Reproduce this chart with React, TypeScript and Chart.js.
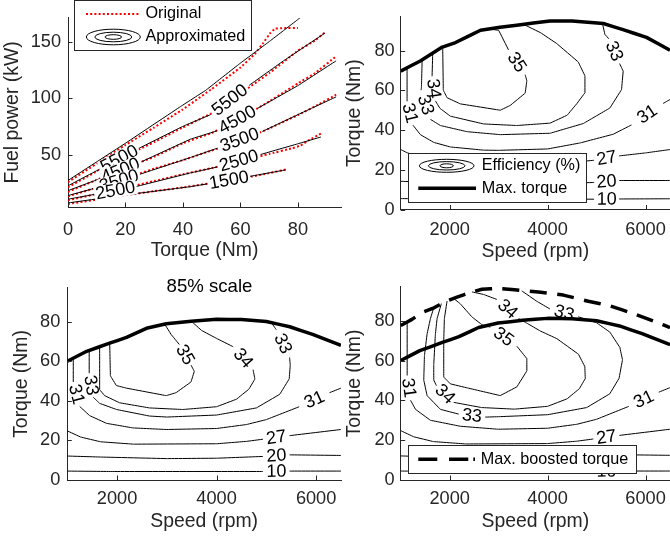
import React, { useEffect, useRef } from "react";
import { Chart, registerables } from "chart.js";
Chart.register(...registerables);

const FONT = '"Liberation Sans", Arial, Helvetica, sans-serif';
const AX = "#262626";
const TICK_FONT = 18.2;
const TITLE_FONT = 19.4;
const CLABEL_FONT = 18;

type Pt = [number, number] | null;

// ---------------- Panel 1: fuel power vs torque ----------------
const torqueTicks1 = [0, 20, 40, 60, 80];
const fuelTicks = [50, 100, 150];

// Approximated (contours of speed, rpm) — null = label gap
const approx6500: Pt[] = [[0, 27], [20, 60], [39, 92.2], [48, 107], [59.5, 130], [70, 150], [80, 169.6], [82, 174]];
const approx5500: Pt[] = [[0, 22.3], [11, 37], null, [24.7, 55.5], [40, 75], [49.6, 85.3], null, [63, 111.2], [75, 133], [89.3, 157.4]];
const approx4500: Pt[] = [[0, 18], [11, 28.5], null, [25.5, 43.5], [42.6, 63.6], [51.9, 71], null, [65.9, 90.8], [80, 111], [93.3, 133]];
const approx3500: Pt[] = [[0, 13.6], [10.5, 21], null, [25, 32.5], [42.6, 47.3], [51.9, 55.5], null, [67.6, 70.4], [84.6, 90.8], [93.3, 101]];
const approx2500: Pt[] = [[0, 10.4], [9.5, 14.8], null, [23.5, 21.5], [42.6, 33.7], [52, 39], null, [67, 50], [80, 59.5], [88, 65.5]];
const approx1500: Pt[] = [[0, 7.1], [20, 14.2], [42.6, 21.5], [49, 24.2], null, [63, 30.5], [75.8, 36.4]];

// Original data
const orig6500: Pt[] = [[0, 25.5], [10, 42], [20, 58.5], [30, 74], [40, 90], [50, 108], [60, 127], [65, 139], [68, 149], [70.5, 158], [72, 161.5], [75, 162], [80, 162]];
const orig5500: Pt[] = [[0, 21], [10, 35], [20, 48.5], [30, 61], [40, 74], [50, 86.5], [60, 104], [70, 122], [80, 142], [86, 151], [89.3, 158]];
const orig4500: Pt[] = [[0, 17], [10, 27.5], [20, 38], [30, 48], [40, 60], [50, 69], [60, 82], [70, 97], [80, 113], [86, 122], [93.3, 137]];
const orig3500: Pt[] = [[0, 13], [10, 20.5], [20, 29], [30, 37.5], [40, 45], [50, 53.5], [60, 62], [70, 73], [80, 85], [87, 94], [93.3, 103]];
const orig2500: Pt[] = [[0, 9.5], [10, 15], [20, 20.5], [30, 26.5], [40, 32.5], [50, 38], [60, 44], [70, 50.5], [78, 55.5], [81, 58], [84, 63], [88, 68.5]];
const orig1500: Pt[] = [[0, 6.2], [10, 10], [20, 14], [30, 17.5], [40, 20.8], [50, 24.8], [60, 28.5], [70, 33.5], [76, 36.8]];

// ---------------- Efficiency maps ----------------
const speedTicks = [2000, 4000, 6000];
const torqueTicks = [0, 20, 40, 60, 80];

// Panel 2: full scale
const maxTorque: Pt[] = [[1000, 69.7], [1400, 74.8], [1850, 81.8], [2120, 84.1], [2630, 90.3], [3030, 91.8], [3710, 93.9], [4050, 94.9], [4500, 94.9], [5140, 93.7], [5540, 90.6], [6020, 86.7], [6500, 80.2]];
const eff10: Pt[] = [[1000, 5.5], [1900, 5.3], [3000, 5.1], [4950, 5.2], null, [5460, 5.3], [6500, 5.4]];
const eff20: Pt[] = [[1000, 14.2], [1670, 13.6], [3000, 12.9], [4000, 13], [4950, 13.6], null, [5460, 14.6], [6500, 14.6]];
const eff27: Pt[] = [[1000, 30.2], [1130, 28.6], [1400, 26.5], [1700, 25], [2300, 23.5], [3000, 23], [4000, 23.3], [4700, 24.2], [4950, 24.8], null, [5460, 27], [6000, 28.5], [6500, 30.2]];
const eff31: Pt[] = [[1130, 71], [1130, 54.5], null, [1250, 42.5], [1403, 37.7], [1674, 33.8], [2014, 31.5], [2692, 29.9], [3000, 29.8], [4000, 30.5], [4660, 33.5], [5340, 37.9], [5713, 42.6], null, [6358, 53.4], [6500, 55.4]];
const eff33: Pt[] = [[1438, 75.4], [1424, 61.7], [1417, 60.1], null, [1607, 45.4], [1810, 42.3], [2354, 39.2], [3033, 37.7], [4051, 38.4], [4729, 43.3], [5272, 51.1], [5510, 60.4], [5544, 69.7], [5470, 73.5], null, [5250, 86], [5170, 88.2], [5122, 93.6]];
const eff34: Pt[] = [[1654, 78.8], [1641, 67.1], null, [1709, 54.7], [1800, 51], [2014, 47], [2692, 43.1], [3371, 42.3], [4051, 43.5], [4400, 47.5], [4600, 53.4], [4763, 58.8], [4763, 67.3], [4627, 74.3], [4186, 83.6], [3860, 89], [3507, 93.3]];
const eff35: Pt[] = [[1858, 81.5], [1870, 60.1], [1947, 56.3], [2218, 53.2], [3033, 50], [3236, 52.4], [3542, 58.6], [3576, 64.8], [3542, 67.9], null, [3202, 80.4], [3000, 90.3], [2795, 90.9]];

// Panel 3: 85% scale
const maxTorque85: Pt[] = [[1000, 60], [1390, 65], [1850, 69.1], [2190, 72], [2590, 76.6], [2990, 78.9], [3490, 80.2], [4000, 81.2], [4500, 81], [5000, 80], [5470, 77.4], [5930, 73.5], [6500, 68]];
const s85eff10: Pt[] = [[1000, 4.5], [1870, 4.3], [4933, 4.3], null, [5467, 4.5], [6500, 4.5]];
const s85eff20: Pt[] = [[1000, 12.1], [1667, 11.6], [3000, 10.8], [4000, 11], [4933, 11.9], null, [5467, 12.7], [6500, 12.4]];
const s85eff27: Pt[] = [[1000, 24.8], [1267, 21.7], [1667, 19.3], [2333, 18.1], [4000, 18.3], [4600, 19.5], [4933, 20.6], null, [5467, 22.4], [6500, 25.5]];
const s85eff31: Pt[] = [[1120, 61], [1120, 49.5], null, [1250, 37.1], [1450, 32.5], [1790, 28.6], [2320, 26.3], [2990, 25.5], [4000, 26], [4600, 28], [5000, 30.5], [5660, 37], null, [6270, 44.1], [6500, 46.4]];
const s85eff33: Pt[] = [[1440, 65.5], [1440, 53.9], null, [1520, 41.8], [1650, 38.7], [1990, 35.6], [2650, 32.3], [3000, 31.8], [4000, 32.8], [4800, 36.4], [5270, 43.3], [5460, 51.1], [5480, 58], [5467, 61.9], null, [5200, 75.9], [5100, 79.5]];
const s85eff34: Pt[] = [[1650, 67.2], [1650, 45.6], [1750, 42.6], [2050, 39], [2650, 36.4], [3320, 35.6], [4000, 37], [4400, 40.8], [4650, 45.9], [4770, 51], [4733, 55.7], null, [4333, 67.3], [4000, 71.5], [3700, 75.5], [3500, 80]];
const s85eff35: Pt[] = [[1852, 69.2], [1866, 52.6], [1986, 47.7], [2186, 46.4], [2986, 42.6], [3186, 44.1], [3486, 49.5], [3552, 54.9], [3486, 58], null, [3252, 68.4], [3086, 73.5], [2960, 78.6]];

// Panel 4: boosted
const boostedTorque: Pt[] = [[1000, 77.6], [1230, 80.7], [1440, 84.2], [1680, 86.5], [1910, 89.6], [2150, 91.9], [2420, 94.2], [2660, 95.8], [3000, 96.3], [3270, 95.7], [3813, 94.4], [4322, 92.9], [4831, 89.8], [5272, 87.5], [5747, 83.6], [6257, 79], [6500, 76.6]];
const bEff31: Pt[] = [[1132, 79.3], [1132, 52.5], null, [1200, 40.1], [1302, 35.5], [1607, 30], [2218, 27], [2990, 25.5], [4000, 26], [4600, 28], [5000, 30.5], [5660, 37], null, [6270, 44.1], [6500, 46.4]];
const bEff33: Pt[] = [[1675, 86.5], [1607, 81.1], [1539, 73.4], [1485, 62.5], [1471, 50.2], [1539, 42.4], [1811, 35.5], [2184, 33.1], null, [2727, 31.6], [3000, 31.8], [4000, 32.8], [4800, 36.4], [5270, 43.3], [5460, 51.1], [5530, 60.4], [5476, 66.6], [5272, 74.3], [5000, 79], [4627, 82], null, [4050, 85.9], [3779, 89.8], [3473, 95]];
const bEff34: Pt[] = [[1830, 88.6], [1743, 81.1], [1709, 73.4], [1675, 57.9], [1675, 50.2], [1729, 47.4], null, [2082, 39], [2650, 36.4], [3320, 35.6], [4000, 37], [4400, 40.8], [4650, 45.9], [4770, 51], [4760, 57], [4630, 63.2], [4190, 71], [3848, 74.9], [3576, 78.8], [3406, 81.1], null, [2965, 90.7], [2694, 93.2], [2456, 94.5]];
const bEff35: Pt[] = [[1947, 89.9], [1892, 81.1], [1879, 70.3], [1879, 51.7], [2014, 48.3], [2354, 46.3], [3033, 42.4], [3373, 46.8], [3576, 54.8], [3576, 61], [3373, 67.2], null, [2829, 76.8], [2660, 78], [2456, 81.9], [2218, 88.5], [2082, 91.2]];

// ---------------- helpers ----------------
const toXY = (arr: Pt[]) => arr.map((p) => (p ? { x: p[0], y: p[1] } : { x: NaN, y: NaN }));

// tiny tension avoids Chart.js' fast-path which overdraws near-vertical runs
const TENSION = 0.0001;

const contour = (arr: Pt[], text?: string) => ({
  data: toXY(arr),
  clabel: text,
  borderColor: "#000",
  borderWidth: 1,
  pointRadius: 0,
  fill: false,
  tension: TENSION,
  spanGaps: false,
});
const thick = (arr: Pt[], dash?: number[]) => ({
  data: toXY(arr),
  borderColor: "#000",
  borderWidth: 3.5,
  borderDash: dash || [],
  borderJoinStyle: "round",
  pointRadius: 0,
  fill: false,
  tension: TENSION,
});
const dotted = (arr: Pt[]) => ({
  data: toXY(arr),
  borderColor: "#ff0000",
  borderWidth: 2,
  borderDash: [2, 2.2],
  pointRadius: 0,
  fill: false,
  tension: TENSION,
});

interface AxisSpec {
  min: number;
  max: number;
  ticks: number[];
  title: string;
  tickPad: number; // x: label centre offset below axis; y: gap left of axis
  titlePad: number;
}
interface Spec {
  W: number;
  H: number;
  area: [number, number, number, number];
  x: AxisSpec;
  y: AxisSpec;
  datasets: any[];
  labelBg: boolean;
  overlay?: (ctx: CanvasRenderingContext2D) => void;
}

function legendBox(ctx: CanvasRenderingContext2D, x: number, y: number, w: number, h: number) {
  ctx.save();
  ctx.fillStyle = "#fff";
  ctx.fillRect(x, y, w, h);
  ctx.strokeStyle = AX;
  ctx.lineWidth = 1;
  ctx.setLineDash([]);
  ctx.strokeRect(Math.round(x) + 0.5, Math.round(y) + 0.5, Math.round(w), Math.round(h));
  ctx.restore();
}
function legendText(ctx: CanvasRenderingContext2D, t: string, x: number, y: number) {
  ctx.save();
  ctx.fillStyle = "#000";
  ctx.font = `16.2px ${FONT}`;
  ctx.textAlign = "left";
  ctx.textBaseline = "middle";
  ctx.fillText(t, x, y);
  ctx.restore();
}
function ellipses(ctx: CanvasRenderingContext2D, cx: number, cy: number, radii: [number, number][]) {
  ctx.save();
  ctx.strokeStyle = "#000";
  ctx.lineWidth = 1;
  radii.forEach(([rx, ry]) => {
    ctx.beginPath();
    ctx.ellipse(cx, cy, rx, ry, 0, 0, Math.PI * 2);
    ctx.stroke();
  });
  ctx.restore();
}
function seg(ctx: CanvasRenderingContext2D, x1: number, x2: number, y: number, w: number, color: string, dash: number[]) {
  ctx.save();
  ctx.strokeStyle = color;
  ctx.lineWidth = w;
  ctx.setLineDash(dash);
  ctx.beginPath();
  ctx.moveTo(x1, y);
  ctx.lineTo(x2, y);
  ctx.stroke();
  ctx.restore();
}

function buildConfig(spec: Spec): any {
  const [l, t, r, b] = spec.area;
  const scale = (a: AxisSpec, horizontal: boolean, size: number) => ({
    type: "linear",
    min: a.min,
    max: a.max,
    afterBuildTicks: (s: any) => {
      s.ticks = a.ticks.map((v) => ({ value: v }));
    },
    afterFit: (s: any) => {
      if (horizontal) s.height = size;
      else s.width = size;
    },
    grid: { display: false, drawTicks: false },
    border: { display: true, color: AX, width: 1 },
    ticks: {
      display: !horizontal,
      padding: horizontal ? 0 : a.tickPad,
      color: AX,
      font: { family: FONT, size: TICK_FONT },
      autoSkip: false,
      maxRotation: 0,
      minRotation: 0,
      callback: (v: any) => String(v),
    },
    title: {
      display: true,
      text: a.title,
      color: AX,
      font: { family: FONT, size: TITLE_FONT },
      padding: horizontal ? { top: 0, bottom: a.titlePad } : { top: a.titlePad, bottom: 0 },
    },
  });

  const decor = {
    id: "decor",
    afterDatasetsDraw(chart: any) {
      const ctx: CanvasRenderingContext2D = chart.ctx;
      chart.data.datasets.forEach((ds: any, i: number) => {
        if (!ds.clabel) return;
        const pts = chart.getDatasetMeta(i).data;
        for (let k = 1; k < pts.length - 1; k++) {
          const p = pts[k];
          if (!p.skip) continue;
          const a = pts[k - 1];
          const c = pts[k + 1];
          if (!a || !c || a.skip || c.skip) continue;
          const cx = (a.x + c.x) / 2;
          const cy = (a.y + c.y) / 2;
          let ang = Math.atan2(c.y - a.y, c.x - a.x);
          if (ang > Math.PI / 2) ang -= Math.PI;
          if (ang < -Math.PI / 2) ang += Math.PI;
          ctx.save();
          ctx.translate(cx, cy);
          ctx.rotate(ang);
          ctx.font = `${CLABEL_FONT}px ${FONT}`;
          ctx.textAlign = "center";
          ctx.textBaseline = "middle";
          if (spec.labelBg) {
            const w = ctx.measureText(ds.clabel).width;
            ctx.fillStyle = "#fff";
            ctx.fillRect(-w / 2 - 1.5, -7.5, w + 3, 15);
          }
          ctx.fillStyle = "#000";
          ctx.fillText(ds.clabel, 0, 0.5);
          ctx.restore();
        }
      });
    },
    afterDraw(chart: any) {
      const ctx: CanvasRenderingContext2D = chart.ctx;
      const xs = chart.scales.x;
      const ys = chart.scales.y;
      const ca = chart.chartArea;
      ctx.save();
      ctx.strokeStyle = AX;
      ctx.lineWidth = 1;
      ctx.beginPath();
      spec.x.ticks.forEach((v) => {
        const px = Math.round(xs.getPixelForValue(v)) + 0.5;
        ctx.moveTo(px, ca.bottom);
        ctx.lineTo(px, ca.bottom - 4.5);
      });
      spec.y.ticks.forEach((v) => {
        const py = Math.round(ys.getPixelForValue(v)) + 0.5;
        ctx.moveTo(ca.left, py);
        ctx.lineTo(ca.left + 4.5, py);
      });
      ctx.stroke();
      // x tick labels, placed from the x scale
      ctx.fillStyle = AX;
      ctx.font = `${TICK_FONT}px ${FONT}`;
      ctx.textAlign = "center";
      ctx.textBaseline = "middle";
      spec.x.ticks.forEach((v) => {
        ctx.fillText(String(v), xs.getPixelForValue(v), ca.bottom + spec.x.tickPad);
      });
      ctx.restore();
      if (spec.overlay) spec.overlay(ctx);
    },
  };

  return {
    type: "line",
    data: { datasets: spec.datasets },
    options: {
      responsive: false,
      maintainAspectRatio: false,
      animation: false,
      devicePixelRatio: 1,
      events: [],
      layout: { padding: { left: 0, top: t, right: spec.W - r, bottom: 0 } },
      plugins: { legend: { display: false }, tooltip: { enabled: false }, title: { display: false } },
      scales: {
        x: scale(spec.x, true, spec.H - b),
        y: scale(spec.y, false, l),
      },
    },
    plugins: [decor],
  };
}

function ChartCanvas({ spec, left, top }: { spec: Spec; left: number; top: number }) {
  const ref = useRef<HTMLCanvasElement>(null);
  useEffect(() => {
    const chart = new Chart(ref.current as HTMLCanvasElement, buildConfig(spec));
    return () => chart.destroy();
  }, []);
  return (
    <canvas
      ref={ref}
      width={spec.W}
      height={spec.H}
      style={{ position: "absolute", left, top, width: spec.W, height: spec.H }}
    />
  );
}

// ---------------- panel specs ----------------
const spec1: Spec = {
  W: 345,
  H: 270,
  area: [68, 1, 341, 207],
  x: { min: 0, max: 95, ticks: torqueTicks1, title: "Torque (Nm)", tickPad: 22.5, titlePad: 7.4 },
  y: { min: 3.5, max: 171, ticks: fuelTicks, title: "Fuel power (kW)", tickPad: 7, titlePad: 0.8 },
  labelBg: true,
  datasets: [
    contour(approx6500),
    contour(approx5500, "5500"),
    contour(approx4500, "4500"),
    contour(approx3500, "3500"),
    contour(approx2500, "2500"),
    contour(approx1500, "1500"),
    dotted(orig6500),
    dotted(orig5500),
    dotted(orig4500),
    dotted(orig3500),
    dotted(orig2500),
    dotted(orig1500),
  ],
  overlay: (ctx) => {
    legendBox(ctx, 74, 0, 177, 50);
    seg(ctx, 86, 140, 14, 2, "#ff0000", [2, 2.2]);
    legendText(ctx, "Original", 145.5, 14);
    ellipses(ctx, 113.3, 37, [[27, 7.8], [18.5, 4.8], [8.3, 2.3]]);
    legendText(ctx, "Approximated", 145.5, 37);
  },
};

const spec2: Spec = {
  W: 330,
  H: 270,
  area: [60.7, 1, 330, 209.5],
  x: { min: 1000, max: 6500, ticks: speedTicks, title: "Speed (rpm)", tickPad: 20, titlePad: 6.9 },
  y: { min: 0, max: 97, ticks: torqueTicks, title: "Torque (Nm)", tickPad: 6, titlePad: 3.4 },
  labelBg: false,
  datasets: [
    contour(eff10, "10"),
    contour(eff20, "20"),
    contour(eff27, "27"),
    contour(eff31, "31"),
    contour(eff33, "33"),
    contour(eff34, "34"),
    contour(eff35, "35"),
    thick(maxTorque),
  ],
  overlay: (ctx) => {
    legendBox(ctx, 68, 153, 178, 49);
    ellipses(ctx, 106.7, 165.8, [[27.3, 6.5], [18.3, 4.2], [6.7, 2]]);
    legendText(ctx, "Efficiency (%)", 141.7, 165.8);
    seg(ctx, 78.3, 136, 188.3, 3.5, "#000", []);
    legendText(ctx, "Max. torque", 141.7, 188.3);
  },
};

const spec3: Spec = {
  W: 345,
  H: 272,
  area: [67.3, 1, 341, 210],
  x: { min: 1000, max: 6500, ticks: speedTicks, title: "Speed (rpm)", tickPad: 19.2, titlePad: 8.9 },
  y: { min: 0, max: 97, ticks: torqueTicks, title: "Torque (Nm)", tickPad: 7, titlePad: 10.1 },
  labelBg: false,
  datasets: [
    contour(s85eff10, "10"),
    contour(s85eff20, "20"),
    contour(s85eff27, "27"),
    contour(s85eff31, "31"),
    contour(s85eff33, "33"),
    contour(s85eff34, "34"),
    contour(s85eff35, "35"),
    thick(maxTorque85),
  ],
  overlay: (ctx) => {
    ctx.save();
    ctx.fillStyle = "#000";
    ctx.font = `18.6px ${FONT}`;
    ctx.textAlign = "center";
    ctx.textBaseline = "middle";
    ctx.fillText("85% scale", 209.5, 16.8);
    ctx.restore();
  },
};

const spec4: Spec = {
  W: 330,
  H: 272,
  area: [60.7, 1, 330, 210],
  x: { min: 1000, max: 6500, ticks: speedTicks, title: "Speed (rpm)", tickPad: 19.2, titlePad: 8.9 },
  y: { min: 0, max: 97, ticks: torqueTicks, title: "Torque (Nm)", tickPad: 6, titlePad: 3.4 },
  labelBg: false,
  datasets: [
    contour(s85eff10, "10"),
    contour(s85eff20, "20"),
    contour(s85eff27, "27"),
    contour(bEff31, "31"),
    contour(bEff33, "33"),
    contour(bEff34, "34"),
    contour(bEff35, "35"),
    thick(maxTorque85),
    thick(boostedTorque, [17, 10.5]),
  ],
  overlay: (ctx) => {
    legendBox(ctx, 68, 175, 228, 28);
    seg(ctx, 78.3, 135, 189.3, 3.5, "#000", [19, 11.7, 19.3, 5, 2, 20]);
    legendText(ctx, "Max. boosted torque", 140.7, 189.3);
  },
};

export default function App() {
  return (
    <div style={{ position: "fixed", left: 0, top: 0, width: 670, height: 542, background: "#fff", overflow: "hidden" }}>
      <ChartCanvas spec={spec1} left={0} top={0} />
      <ChartCanvas spec={spec2} left={340} top={0} />
      <ChartCanvas spec={spec3} left={0} top={270} />
      <ChartCanvas spec={spec4} left={340} top={270} />
    </div>
  );
}
